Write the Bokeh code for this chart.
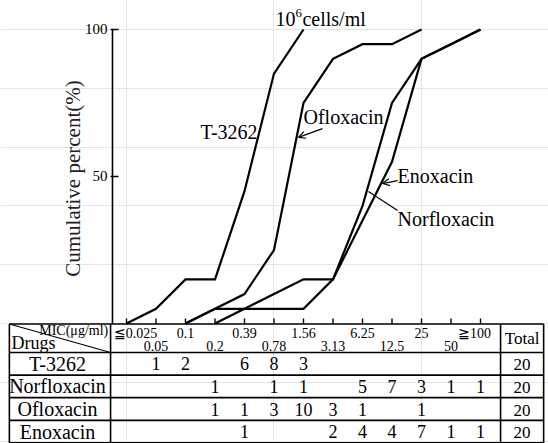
import numpy as np
from bokeh.plotting import figure
from bokeh.models import Range1d, Arrow, OpenHead
from bokeh.core.properties import value
from bokeh.embed import file_html
from bokeh.resources import INLINE

# ---------------- data ----------------
mic_labels = ["≦0.025", "0.05", "0.1", "0.2", "0.39", "0.78", "1.56",
              "3.13", "6.25", "12.5", "25", "50", "≧100"]
drugs = ["T-3262", "Norfloxacin", "Ofloxacin", "Enoxacin"]
counts_t3262 = [0, 1, 2, 0, 6, 8, 3, 0, 0, 0, 0, 0, 0]
counts_norfloxacin = [0, 0, 0, 1, 0, 1, 1, 0, 5, 7, 3, 1, 1]
counts_ofloxacin = [0, 0, 0, 1, 1, 3, 10, 3, 1, 0, 1, 0, 0]
counts_enoxacin = [0, 0, 0, 0, 1, 0, 0, 2, 4, 4, 7, 1, 1]
totals = [20, 20, 20, 20]

# cumulative percent curves as drawn (MIC column index -> %)
t3262_idx = [0, 1, 2, 3, 4, 5, 6]
t3262_pct = [0, 5, 15, 15, 45, 85, 100]
ofloxacin_idx = [2, 3, 4, 5, 6, 7, 8, 9, 10]
ofloxacin_pct = [0, 5, 10, 25, 75, 90, 95, 95, 100]
norfloxacin_idx = [2, 3, 4, 5, 6, 7, 8, 9, 10, 11, 12]
norfloxacin_pct = [0, 5, 5, 5, 5, 15, 40, 75, 90, 95, 100]
enoxacin_idx = [3, 4, 5, 6, 7, 8, 9, 10, 11, 12]
enoxacin_pct = [0, 5, 10, 15, 15, 35, 55, 90, 95, 100]
y_ticks = [50, 100]

# ---------------- figure ----------------
SERIF = value("Liberation Serif")
W, H = 548, 443
p = figure(width=W, height=H, output_backend="svg", toolbar_location=None,
           x_range=Range1d(-4.271, 14.305), y_range=Range1d(-40.82, 109.86),
           x_axis_location=None, y_axis_location=None, min_border=0)
p.outline_line_color = None
p.background_fill_color = "white"
p.border_fill_color = "white"
# table coordinate system: 0 = table top, 1 unit = one data row
p.extra_y_ranges = {"tbl": Range1d(start=(443 - 323.5) / 22.6, end=-323.5 / 22.6)}

# curves
for xs, ys in [(t3262_idx, t3262_pct), (ofloxacin_idx, ofloxacin_pct),
               (norfloxacin_idx, norfloxacin_pct), (enoxacin_idx, enoxacin_pct)]:
    p.line(xs, ys, line_color="black", line_width=2.2, line_join="miter")

# y axis
AX = -0.475
p.segment(x0=[AX], y0=[0], x1=[AX], y1=[100], line_color="black", line_width=1.6)
p.segment(x0=[-0.54] * len(y_ticks), y0=y_ticks, x1=[-0.27] * len(y_ticks), y1=y_ticks,
          line_color="black", line_width=1.4)
p.text(x=[-0.644] * len(y_ticks), y=y_ticks, text=[str(t) for t in y_ticks],
       text_font=SERIF, text_font_size="15px", text_align="right",
       text_baseline="middle", text_color="black")
p.text(x=[-1.83], y=[49.3], text=["Cumulative percent(%)"], angle=np.pi / 2,
       text_font=SERIF, text_font_size="21px", text_align="center",
       text_baseline="middle", text_color="#222222")

# x ticks along table top
cols = list(range(len(mic_labels)))
p.segment(x0=cols, y0=[0] * len(cols), x1=cols, y1=[1.7] * len(cols),
          line_color="black", line_width=1.4)

# curve labels
p.text(x=[5.05], y=[103.4], text=["10"], text_font=SERIF, text_font_size="20px",
       text_align="left", text_baseline="middle", text_color="black")
p.text(x=[5.05], y=[103.4], text=["6"], x_offset=[20], y_offset=[-6],
       text_font=SERIF, text_font_size="13px", text_align="left",
       text_baseline="middle", text_color="black")
p.text(x=[5.05], y=[103.4], text=["cells/ml"], x_offset=[27],
       text_font=SERIF, text_font_size="20px", text_align="left",
       text_baseline="middle", text_color="black")
p.text(x=[2.51, 6.0, 9.19, 9.19], y=[65.0, 70.1, 50.3, 35.7],
       text=["T-3262", "Ofloxacin", "Enoxacin", "Norfloxacin"],
       text_font=SERIF, text_font_size="20px", text_align="left",
       text_baseline="middle", text_color="black")
p.add_layout(Arrow(end=OpenHead(size=7, line_width=1.2, line_color="black"),
                   x_start=6.64, y_start=66.3, x_end=5.83, y_end=63.3,
                   line_width=1.2, line_color="black"))
p.add_layout(Arrow(end=OpenHead(size=7, line_width=1.2, line_color="black"),
                   x_start=9.19, y_start=48.6, x_end=8.68, y_end=47.6,
                   line_width=1.2, line_color="black"))
p.segment(x0=[8.20], y0=[44.9], x1=[9.19], y1=[38.4], line_color="black", line_width=1.2)

# ---------------- table ----------------
LEFT, DRUGR, TOTL, RIGHT = -3.97, -0.54, 12.68, 14.14
HDR = 28.5 / 22.6
BOTTOM = HDR + len(drugs)
hlines = [0.0] + [HDR + k for k in range(len(drugs) + 1)]
p.segment(x0=[LEFT] * len(hlines), y0=hlines, x1=[RIGHT] * len(hlines), y1=hlines,
          line_color="black", line_width=1.7, y_range_name="tbl")
vx = [LEFT, DRUGR, TOTL, RIGHT]
p.segment(x0=vx, y0=[0] * 4, x1=vx, y1=[BOTTOM] * 4,
          line_color="black", line_width=1.6, y_range_name="tbl")
p.segment(x0=[LEFT], y0=[0], x1=[DRUGR], y1=[HDR], line_color="black",
          line_width=1.2, y_range_name="tbl")

# header labels
top_i = [i for i in cols if i % 2 == 0]
bot_i = [i for i in cols if i % 2 == 1]
offs = {0: 9, 12: -6}
p.text(x=top_i, y=[0.4] * len(top_i), text=[mic_labels[i] for i in top_i],
       x_offset=[offs.get(i, 0) for i in top_i],
       text_font=SERIF, text_font_size="14px", text_align="center",
       text_baseline="middle", text_color="black", y_range_name="tbl")
p.text(x=bot_i, y=[0.97] * len(bot_i), text=[mic_labels[i] for i in bot_i],
       text_font=SERIF, text_font_size="14px", text_align="center",
       text_baseline="middle", text_color="black", y_range_name="tbl")
p.text(x=[-0.62], y=[0.3], text=["MIC(μg/ml)"], text_font=SERIF,
       text_font_size="14px", text_align="right", text_baseline="middle",
       text_color="black", y_range_name="tbl")
p.text(x=[-3.9], y=[0.84], text=["Drugs"], text_font=SERIF,
       text_font_size="18px", text_align="left", text_baseline="middle",
       text_color="black", y_range_name="tbl")
p.text(x=[13.41], y=[0.66], text=["Total"], text_font=SERIF,
       text_font_size="17px", text_align="center", text_baseline="middle",
       text_color="black", y_range_name="tbl")

# rows
all_counts = [counts_t3262, counts_norfloxacin, counts_ofloxacin, counts_enoxacin]
rows_y = [HDR + k + 0.5 for k in range(len(drugs))]
p.text(x=[-2.34] * len(drugs), y=rows_y, text=drugs, text_font=SERIF,
       text_font_size="20px", text_align="center", text_baseline="middle",
       text_color="black", y_range_name="tbl")
nx, ny, nt = [], [], []
for k, cnt in enumerate(all_counts):
    for j, c in enumerate(cnt):
        if c > 0:
            nx.append(j)
            ny.append(rows_y[k])
            nt.append(str(c))
p.text(x=nx, y=ny, text=nt, text_font=SERIF, text_font_size="18px",
       text_align="center", text_baseline="middle", text_color="black",
       y_range_name="tbl")
p.text(x=[13.41] * len(totals), y=[r + 0.05 for r in rows_y], text=[str(t) for t in totals],
       text_font=SERIF, text_font_size="17px", text_align="center",
       text_baseline="middle", text_color="black", y_range_name="tbl")

open("out.html", "w").write(file_html(p, INLINE))
